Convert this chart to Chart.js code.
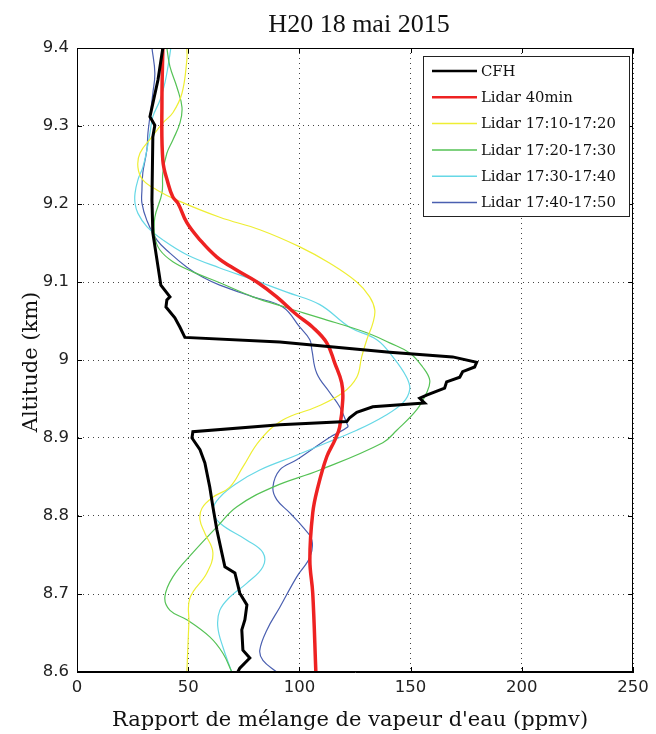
<!DOCTYPE html>
<html>
<head>
<meta charset="utf-8">
<title>H20 18 mai 2015</title>
<script src="https://cdn.jsdelivr.net/npm/chart.js@4.4.1/dist/chart.umd.min.js"></script>
<style>
  html, body { margin: 0; padding: 0; background: #fff; }
  #wrap { width: 656px; height: 734px; position: relative; }
</style>
</head>
<body>
<div id="wrap"><canvas id="profil"></canvas></div>
<script>
(function(){
    // ---- données ----
    const xTicks = [0, 50, 100, 150, 200, 250];
    const altTicks = [8.6, 8.7, 8.8, 8.9, 9.0, 9.1, 9.2, 9.3, 9.4];

    const cfhVal = [38.6, 36.4, 32.8, 35.0, 34.1, 33.7, 34.1, 37.7, 41.8, 40.4, 40.0, 44.0, 46.3, 48.5, 91.2, 140.6, 168.9, 179.7, 178.8, 173.4, 172.1, 166.2, 165.3, 157.2, 154.1, 156.3, 133.0, 125.8, 122.6, 121.3, 91.2, 52.1, 51.7, 55.3, 57.5, 59.7, 61.1, 62.9, 65.1, 66.5, 71.0, 73.2, 76.4, 75.5, 74.1, 74.6, 77.7, 73.2, 72.3];
    const cfhAlt = [9.400, 9.359, 9.312, 9.301, 9.286, 9.205, 9.163, 9.096, 9.081, 9.077, 9.068, 9.054, 9.042, 9.029, 9.023, 9.010, 9.004, 8.997, 8.991, 8.985, 8.978, 8.972, 8.964, 8.955, 8.951, 8.945, 8.940, 8.933, 8.926, 8.921, 8.917, 8.908, 8.900, 8.885, 8.868, 8.837, 8.812, 8.782, 8.753, 8.735, 8.727, 8.701, 8.686, 8.667, 8.654, 8.628, 8.618, 8.605, 8.600];

    const lid40Val = [38.6, 38.2, 38.6, 40.9, 43.1, 45.4, 49.4, 55.3, 62.9, 71.9, 80.9, 89.8, 98.8, 106.0, 112.3, 115.9, 119.0, 119.5, 118.1, 115.9, 112.3, 108.3, 106.0, 104.7, 106.0, 107.4];
    const lid40Alt = [9.400, 9.333, 9.256, 9.227, 9.209, 9.201, 9.176, 9.154, 9.132, 9.115, 9.100, 9.081, 9.058, 9.042, 9.022, 8.996, 8.971, 8.949, 8.914, 8.897, 8.876, 8.837, 8.804, 8.744, 8.701, 8.600];

    const l1710Val = [49.4, 49.4, 47.2, 43.1, 38.6, 33.7, 28.3, 27.4, 29.6, 35.9, 44.9, 64.2, 82.2, 100.2, 113.7, 125.8, 131.6, 133.9, 133.0, 130.3, 128.0, 125.8, 119.5, 107.8, 92.5, 82.2, 74.6, 68.7, 61.1, 56.2, 55.3, 57.5, 61.1, 58.4, 50.8, 50.3, 49.4];
    const l1710Alt = [9.400, 9.385, 9.342, 9.317, 9.304, 9.286, 9.265, 9.247, 9.231, 9.218, 9.205, 9.183, 9.167, 9.145, 9.124, 9.100, 9.081, 9.064, 9.047, 9.026, 9.004, 8.978, 8.958, 8.940, 8.923, 8.897, 8.863, 8.837, 8.824, 8.810, 8.795, 8.778, 8.753, 8.727, 8.695, 8.663, 8.600];

    const l1720Val = [40.4, 41.8, 44.9, 47.2, 46.3, 43.1, 40.4, 38.6, 38.2, 35.0, 35.0, 37.3, 43.1, 52.1, 64.2, 79.1, 94.3, 109.2, 130.3, 140.6, 149.6, 155.4, 158.6, 157.2, 152.7, 143.8, 137.5, 109.2, 88.1, 71.9, 62.9, 52.1, 43.1, 39.5, 41.8, 49.4, 59.7, 65.6, 69.6];
    const l1720Alt = [9.400, 9.376, 9.350, 9.324, 9.304, 9.282, 9.265, 9.240, 9.214, 9.183, 9.158, 9.141, 9.126, 9.113, 9.099, 9.081, 9.067, 9.054, 9.035, 9.022, 9.009, 8.991, 8.974, 8.958, 8.936, 8.910, 8.894, 8.859, 8.837, 8.812, 8.786, 8.753, 8.722, 8.696, 8.679, 8.667, 8.645, 8.624, 8.600];

    const l1730Val = [42.2, 40.9, 39.5, 37.3, 34.1, 32.8, 31.4, 29.6, 27.4, 26.1, 26.1, 27.4, 31.4, 38.6, 49.4, 64.2, 79.1, 94.3, 109.2, 122.6, 134.8, 142.0, 148.2, 149.6, 146.5, 137.5, 125.8, 112.3, 97.0, 82.2, 71.9, 64.2, 61.1, 64.2, 76.4, 83.6, 83.6, 76.4, 68.7, 64.2, 63.3, 65.6, 69.6];
    const l1730Alt = [9.400, 9.376, 9.355, 9.333, 9.312, 9.291, 9.269, 9.247, 9.231, 9.214, 9.201, 9.188, 9.171, 9.154, 9.135, 9.118, 9.103, 9.087, 9.071, 9.042, 9.026, 9.004, 8.978, 8.962, 8.945, 8.927, 8.910, 8.894, 8.876, 8.859, 8.842, 8.824, 8.808, 8.791, 8.769, 8.753, 8.735, 8.714, 8.696, 8.679, 8.658, 8.632, 8.600];

    const l1740Val = [33.7, 35.0, 34.1, 32.8, 31.9, 31.4, 29.6, 29.2, 29.2, 31.4, 35.9, 41.8, 49.4, 56.6, 64.2, 79.1, 92.5, 100.2, 104.7, 105.6, 107.8, 113.7, 118.1, 121.3, 121.7, 113.7, 98.8, 91.2, 88.1, 89.8, 95.7, 101.5, 105.6, 104.7, 98.8, 91.2, 85.4, 82.2, 83.6, 89.8];
    const l1740Alt = [9.400, 9.368, 9.342, 9.312, 9.291, 9.269, 9.240, 9.218, 9.201, 9.179, 9.154, 9.137, 9.119, 9.106, 9.096, 9.081, 9.068, 9.042, 9.026, 9.013, 8.983, 8.958, 8.940, 8.919, 8.914, 8.901, 8.872, 8.859, 8.837, 8.821, 8.804, 8.786, 8.769, 8.747, 8.722, 8.683, 8.654, 8.628, 8.615, 8.600];

    const seriesNames = ["CFH", "Lidar 40min", "Lidar 17:10-17:20", "Lidar 17:20-17:30", "Lidar 17:30-17:40", "Lidar 17:40-17:50"];
    // ------------------------------------

    const pts = (xs, ys) => xs.map((v, i) => ({x: v, y: ys[i]}));

    function serie(label, xs, ys, color, width, tension){
        return {
            label: label,
            data: pts(xs, ys),
            borderColor: color,
            backgroundColor: color,
            borderWidth: width,
            showLine: true,
            pointRadius: 0,
            tension: tension,
            fill: false
        };
    }

    const datasets = [
        serie(seriesNames[0], cfhVal, cfhAlt, '#000000', 3, 0),
        serie(seriesNames[1], lid40Val, lid40Alt, '#ee2222', 3.5, 0.4),
        serie(seriesNames[2], l1710Val, l1710Alt, '#eeee33', 1.2, 0.4),
        serie(seriesNames[3], l1720Val, l1720Alt, '#55c255', 1.2, 0.4),
        serie(seriesNames[4], l1730Val, l1730Alt, '#66d8e6', 1.2, 0.4),
        serie(seriesNames[5], l1740Val, l1740Alt, '#4a5fb0', 1.2, 0.4)
    ];

    const serif = "'DejaVu Serif', serif";

    // cadre, graduations internes, titres et légende façon MATLAB
    const matlabDeco = {
        id: 'matlabDeco',
        afterDraw(chart){
            const ctx = chart.ctx;
            const a = chart.chartArea;
            const sx = chart.scales.x, sy = chart.scales.y;
            ctx.save();
            ctx.strokeStyle = '#000';
            ctx.lineWidth = 1;
            ctx.strokeRect(a.left + 0.5, a.top + 0.5, a.right - a.left - 1, a.bottom - a.top - 1);
            ctx.beginPath();
            xTicks.forEach(v => {
                const px = Math.round(sx.getPixelForValue(v)) + 0.5;
                ctx.moveTo(px, a.bottom); ctx.lineTo(px, a.bottom - 5);
                ctx.moveTo(px, a.top); ctx.lineTo(px, a.top + 5);
            });
            altTicks.forEach(v => {
                const py = Math.round(sy.getPixelForValue(v)) + 0.5;
                ctx.moveTo(a.left, py); ctx.lineTo(a.left + 5, py);
                ctx.moveTo(a.right, py); ctx.lineTo(a.right - 5, py);
            });
            ctx.stroke();

            // titres
            ctx.fillStyle = '#111';
            ctx.textAlign = 'center';
            ctx.textBaseline = 'alphabetic';
            ctx.font = "26px 'Liberation Serif', serif";
            ctx.fillText('H20 18 mai 2015', (a.left + a.right) / 2 + 4, 32);
            ctx.font = '21px ' + serif;
            ctx.fillText("Rapport de mélange de vapeur d'eau (ppmv)", (a.left + a.right) / 2 - 5, 726);
            ctx.save();
            ctx.translate(37, (a.top + a.bottom) / 2 + 2);
            ctx.rotate(-Math.PI / 2);
            ctx.fillText('Altitude (km)', 0, 0);
            ctx.restore();

            // légende
            const lx = 423, ly = 56, lw = 206, lh = 160;
            ctx.fillStyle = '#fff';
            ctx.fillRect(lx, ly, lw, lh);
            ctx.strokeStyle = '#222';
            ctx.strokeRect(lx + 0.5, ly + 0.5, lw, lh);
            ctx.font = '14.8px ' + serif;
            ctx.textAlign = 'left';
            ctx.textBaseline = 'middle';
            chart.data.datasets.forEach((ds, i) => {
                const y = 71 + i * 26.3;
                ctx.strokeStyle = ds.borderColor;
                ctx.lineWidth = i < 2 ? 2.5 : 1.5;
                ctx.beginPath();
                ctx.moveTo(432, y); ctx.lineTo(477, y);
                ctx.stroke();
                ctx.fillStyle = '#111';
                ctx.fillText(ds.label, 481, y + 1);
            });
            ctx.restore();
        }
    };

    const ctx = document.getElementById('profil').getContext('2d');
    new Chart(ctx, {
        type: 'scatter',
        data: { datasets: datasets },
        options: {
            responsive: true,
            maintainAspectRatio: false,
            animation: false,
            layout: { padding: { top: 48, right: 23, left: 0, bottom: 0 } },
            plugins: {
                legend: { display: false },
                tooltip: { enabled: false }
            },
            scales: {
                x: {
                    type: 'linear',
                    min: 0, max: 250,
                    afterFit: s => { s.height = 62; },
                    afterBuildTicks: s => { s.ticks = xTicks.map(v => ({value: v})); },
                    ticks: {
                        padding: 6,
                        color: '#222',
                        font: { family: "'DejaVu Sans', sans-serif", size: 16.5 },
                        callback: v => String(v)
                    },
                    grid: { color: '#444', lineWidth: 1, drawTicks: false },
                    border: { display: true, color: '#000', dash: [1, 4] }
                },
                y: {
                    type: 'linear',
                    min: 8.6, max: 9.4,
                    afterFit: s => { s.width = 77; },
                    afterBuildTicks: s => { s.ticks = altTicks.map(v => ({value: v})); },
                    ticks: {
                        padding: 8,
                        color: '#222',
                        font: { family: "'DejaVu Sans', sans-serif", size: 16.5 },
                        callback: v => String(Number(v.toFixed(1)))
                    },
                    grid: { color: '#444', lineWidth: 1, drawTicks: false },
                    border: { display: true, color: '#000', dash: [1, 4] }
                }
            }
        },
        plugins: [matlabDeco]
    });
})()
</script>
</body>
</html>
